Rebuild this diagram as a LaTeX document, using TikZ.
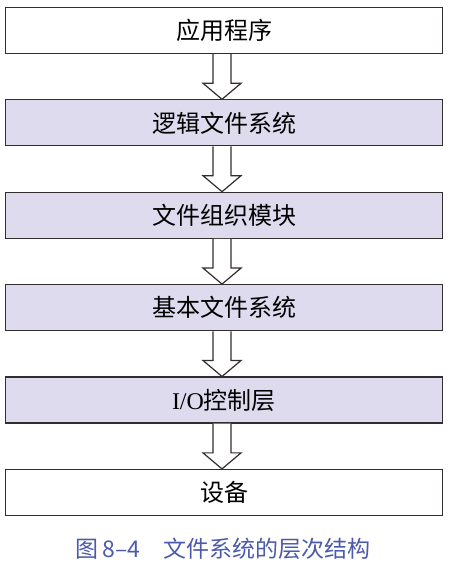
\documentclass[tikz,border=0pt]{standalone}
\usepackage{fontspec}
\setmainfont{Liberation Serif}
\newfontfamily\cjk{Noto Sans CJK SC}
\usepackage{tikz}
\usetikzlibrary{positioning, calc}
\usepackage{xcolor}
\definecolor{layerfill}{RGB}{222,219,238}
\definecolor{linegray}{RGB}{51,45,45}
\definecolor{captionblue}{RGB}{75,90,170}

\begin{document}
\begin{tikzpicture}[x=1pt, y=1pt,
    layer/.style={draw=linegray, line width=1.2pt, minimum width=437pt, minimum height=46pt, inner sep=0pt, font=\fontsize{24}{28}\selectfont},
    shaded/.style={layer, fill=layerfill},
    hollow/.style={draw=linegray, line width=1.2pt, fill=white, line join=miter}]
      \useasboundingbox (0, 0) rectangle (448, 567);

      \node[layer] (app) at (224, 536.5) {\cjk 应用程序};
      \node[shaded, below=45.2pt of app] (logic) {\cjk 逻辑文件系统};
      \node[shaded, below=45.2pt of logic] (org) {\cjk 文件组织模块};
      \node[shaded, below=45.2pt of org] (basic) {\cjk 基本文件系统};
      \node[shaded, below=45.2pt of basic] (io) {I/O\cjk 控制层};
      \node[layer, below=45.2pt of io] (dev) {\cjk 设备};

      % hollow block arrows between the layers
      \foreach \u/\v in {app/logic, logic/org, org/basic, basic/io, io/dev}
        \draw[hollow] let \p1=($(\u.south)+(-2pt,0)$), \p2=(\v.north) in
          (\x1-9pt, \y1) -- (\x1-9pt, \y2+16pt) -- (\x1-19pt, \y2+16pt) -- (\x1, \y2)
          -- (\x1+19pt, \y2+16pt) -- (\x1+9pt, \y2+16pt) -- (\x1+9pt, \y1);

      \node[text=captionblue, font=\cjk\fontsize{23}{27}\selectfont] (caption) at (223, 18) {图\,8–4\quad 文件系统的层次结构};

    \end{tikzpicture}
\end{document}
